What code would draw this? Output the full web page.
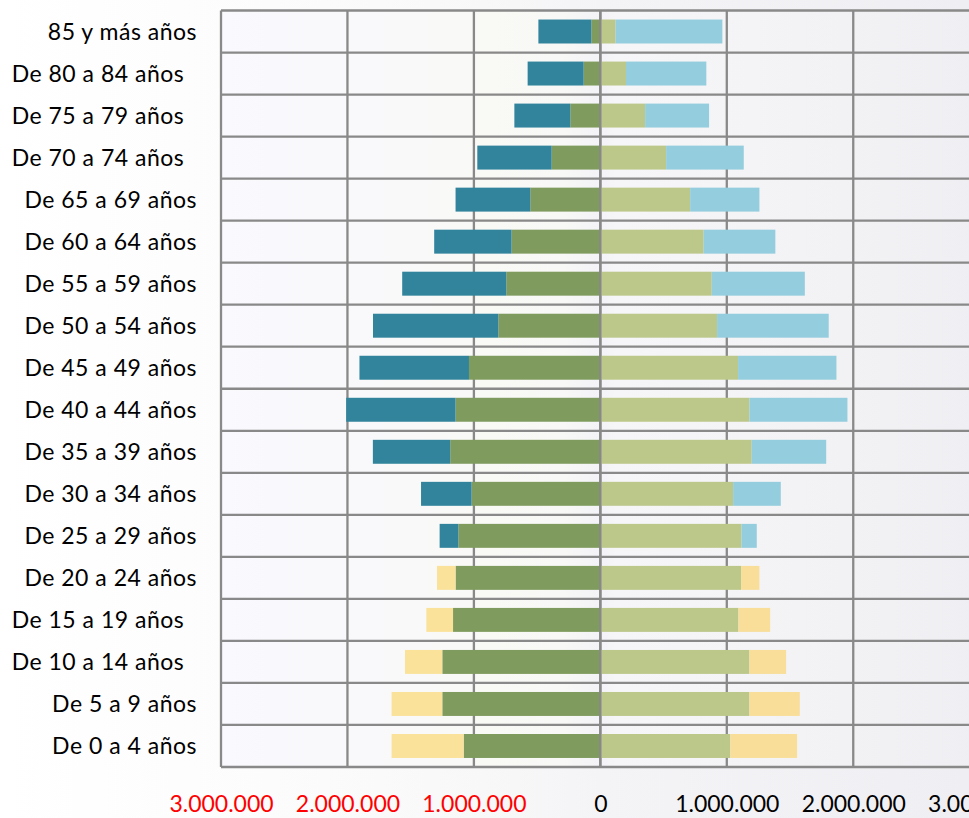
<!DOCTYPE html>
<html>
<head>
<meta charset="utf-8">
<script src="https://cdn.jsdelivr.net/npm/d3@7"></script>
<style>
  body { margin: 0; background: #fff; }
  svg text { font-family: Lato, 'Open Sans', sans-serif; }
</style>
</head>
<body>
<div id="chart"></div>
<script>
// Data, bottom row first
const ages = [
  'De 0 a 4 años', 'De 5 a 9 años', 'De 10 a 14 años  ', 'De 15 a 19 años  ',
  'De 20 a 24 años', 'De 25 a 29 años', 'De 30 a 34 años', 'De 35 a 39 años',
  'De 40 a 44 años', 'De 45 a 49 años', 'De 50 a 54 años', 'De 55 a 59 años',
  'De 60 a 64 años', 'De 65 a 69 años', 'De 70 a 74 años  ', 'De 75 a 79 años  ',
  'De 80 a 84 años  ', '85 y más años',
];

// left side
const izqBase = [1081000, 1250000, 1250000, 1165000, 1145000, 1123000, 1018000, 1187000, 1145000,
  1039000, 807000, 744000, 702000, 554000, 385000, 237000, 132000, 71000];
const izqJovenes = [570000, 401000, 295000, 211000, 147000, 0, 0, 0, 0, 0, 0, 0, 0, 0, 0, 0, 0, 0];
const izqMayores = [0, 0, 0, 0, 0, 148000, 400000, 612000, 865000, 866000, 991000, 823000,
  612000, 591000, 588000, 443000, 443000, 419000];

// right side
const derBase = [1028000, 1179000, 1179000, 1092000, 1113000, 1116000, 1050000, 1197000, 1179000,
  1089000, 923000, 881000, 817000, 710000, 520000, 354000, 203000, 121000];
const derJovenes = [528000, 398000, 290000, 251000, 145000, 0, 0, 0, 0, 0, 0, 0, 0, 0, 0, 0, 0, 0];
const derMayores = [0, 0, 0, 0, 0, 121000, 377000, 589000, 775000, 778000, 883000, 736000,
  567000, 548000, 614000, 506000, 635000, 844000];

const tickValues = [-3000000, -2000000, -1000000, 0, 1000000, 2000000, 3000000];

function draw() {
  // Dimensions
  let dimensions = {
    width: 969,
    height: 818,
    left: 221,
    top: 10.5,
    bottom: 767,
    unit: 126.45, // px per million
  };

  const colors = {
    izq: { base: '#7f9b5e', jov: '#fae29a', may: '#31849b' },
    der: { base: '#bcc78a', jov: '#f8de98', may: '#94cddd' },
  };

  const svg = d3 //
    .select('#chart')
    .append('svg')
    .attr('width', dimensions.width)
    .attr('height', dimensions.height);

  // Background gradients
  const defs = svg.append('defs');
  const bg = defs.append('linearGradient').attr('id', 'bg');
  [
    [0, '#ffffff'],
    [0.28, '#fcfcfc'],
    [0.5, '#f8f8f8'],
    [0.62, '#f4f4f7'],
    [1, '#efeff3'],
  ].forEach(([o, c]) => bg.append('stop').attr('offset', o).attr('stop-color', c));

  const plotBg = defs.append('linearGradient').attr('id', 'plotbg');
  [
    [0, '#f9f9fe'],
    [0.2, '#f9f9fb'],
    [0.35, '#f9f9f6'],
    [0.45, '#f8f8f6'],
    [0.5, '#f3f3f8'],
    [0.52, '#f6f6f8'],
    [0.7, '#f4f4f6'],
    [1, '#efeff3'],
  ].forEach(([o, c]) => plotBg.append('stop').attr('offset', o).attr('stop-color', c));

  svg
    .append('rect') //
    .attr('width', dimensions.width)
    .attr('height', dimensions.height)
    .attr('fill', 'url(#bg)');

  // Scales
  const xScale = d3
    .scaleLinear() //
    .domain([-3000000, 3000000])
    .range([dimensions.left, dimensions.left + 6 * dimensions.unit]);

  const yScale = d3
    .scaleBand() //
    .domain(ages.slice().reverse())
    .range([dimensions.top, dimensions.bottom]);

  const barH = yScale.bandwidth() * 0.57;
  const barOff = (yScale.bandwidth() - barH) / 2;

  svg
    .append('rect')
    .attr('x', xScale(-3000000))
    .attr('y', dimensions.top)
    .attr('width', xScale(3000000) - xScale(-3000000))
    .attr('height', dimensions.bottom - dimensions.top)
    .attr('fill', 'url(#plotbg)');

  // Grid
  const grid = svg.append('g').attr('stroke', '#898989').attr('stroke-width', 2.3);

  grid
    .selectAll('line.v')
    .data(tickValues)
    .join('line')
    .attr('class', 'v')
    .attr('x1', (d) => xScale(d))
    .attr('x2', (d) => xScale(d))
    .attr('y1', dimensions.top)
    .attr('y2', dimensions.bottom);

  const rowEdges = yScale.domain().map((d) => yScale(d)).concat([dimensions.bottom]);
  grid
    .selectAll('line.h')
    .data(rowEdges)
    .join('line')
    .attr('class', 'h')
    .attr('x1', xScale(-3000000))
    .attr('x2', xScale(3000000))
    .attr('y1', (d) => d)
    .attr('y2', (d) => d);

  // Stacks
  const keys = ['base', 'jov', 'may'];
  const izqRows = ages.map((age, i) => ({ age, base: izqBase[i], jov: izqJovenes[i], may: izqMayores[i] }));
  const derRows = ages.map((age, i) => ({ age, base: derBase[i], jov: derJovenes[i], may: derMayores[i] }));
  const stack = d3.stack().keys(keys);

  const izqLayers = stack(izqRows);
  const derLayers = stack(derRows);

  svg
    .append('g')
    .selectAll('g')
    .data(izqLayers)
    .join('g')
    .attr('fill', (d) => colors.izq[d.key])
    .selectAll('rect')
    .data((d) => d)
    .join('rect')
    .attr('x', (d) => xScale(-d[1]))
    .attr('width', (d) => xScale(-d[0]) - xScale(-d[1]))
    .attr('y', (d) => yScale(d.data.age) + barOff)
    .attr('height', barH);

  svg
    .append('g')
    .selectAll('g')
    .data(derLayers)
    .join('g')
    .attr('fill', (d) => colors.der[d.key])
    .selectAll('rect')
    .data((d) => d)
    .join('rect')
    .attr('x', (d) => xScale(d[0]))
    .attr('width', (d) => xScale(d[1]) - xScale(d[0]))
    .attr('y', (d) => yScale(d.data.age) + barOff)
    .attr('height', barH);

  // Zero axis on top of bars
  svg
    .append('line')
    .attr('x1', xScale(0))
    .attr('x2', xScale(0))
    .attr('y1', dimensions.top)
    .attr('y2', dimensions.bottom)
    .attr('stroke', '#898989')
    .attr('stroke-width', 2.3);

  // Category labels
  svg
    .append('g')
    .selectAll('text')
    .data(ages)
    .join('text')
    .attr('x', 197)
    .attr('y', (d) => yScale(d) + yScale.bandwidth() / 2)
    .attr('dy', '0.36em')
    .attr('text-anchor', 'end')
    .style('white-space', 'pre')
    .style('font-size', '23px')
    .style('letter-spacing', '0.5px')
    .attr('fill', '#000')
    .text((d) => d);

  // X axis labels
  const fmt = d3.formatLocale({ decimal: ',', thousands: '.', grouping: [3], currency: ['', ''] }).format(',');
  const xAxis = d3
    .axisBottom(xScale) //
    .tickValues(tickValues)
    .tickSize(0)
    .tickPadding(29)
    .tickFormat((d) => fmt(Math.abs(d)));

  const xAxisGroup = svg
    .append('g') //
    .attr('transform', `translate(0, ${dimensions.bottom})`)
    .call(xAxis);

  xAxisGroup.select('.domain').remove();
  xAxisGroup
    .selectAll('text')
    .style('font-size', '23px')
    .style('font-family', 'Lato, sans-serif')
    .attr('fill', (d) => (d < 0 ? '#ff0000' : '#000'));
}

draw();
</script>
</body>
</html>
